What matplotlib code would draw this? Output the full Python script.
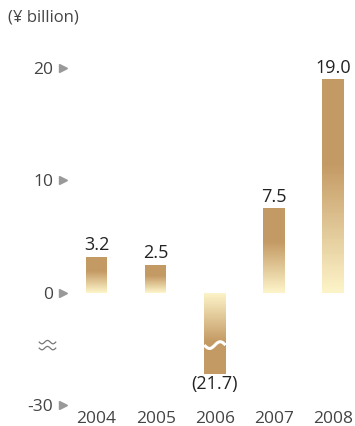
import numpy as np
import matplotlib.pyplot as plt
from matplotlib.colors import LinearSegmentedColormap

# chart values
years = ['2004', '2005', '2006', '2007', '2008']
values = [3.2, 2.5, -21.7, 7.5, 19.0]
value_labels = ['3.2', '2.5', '(21.7)', '7.5', '19.0']
ytick_values = [20, 10, 0, -30]
ytick_labels = ['20', '10', '0', '-30']
unit_label = '(¥ billion)'

plt.rcParams['font.family'] = ['Open Sans', 'DejaVu Sans']

# broken axis: negative side squeezed to a third
def fwd(y):
    y = np.asarray(y, dtype=float)
    return np.where(y >= 0, y, y / 3.0)

def inv(y):
    y = np.asarray(y, dtype=float)
    return np.where(y >= 0, y, y * 3.0)

tan = '#C49A64'
pale = '#FDF4C9'
cmap = LinearSegmentedColormap.from_list('bar', [(0, pale), (0.6, tan), (1, tan)])

fig = plt.figure(figsize=(3.55, 4.26), dpi=100)
ax = fig.add_axes([70 / 355, 21 / 426, 285 / 355, 365 / 426])
ax.set_yscale('function', functions=(fwd, inv))

x = np.arange(len(years))
width = 0.36
nslices = 120

for xi, v in zip(x, values):
    # gradient: pale at zero, tan towards the end of the bar
    edges = np.linspace(0, v, nslices + 1)
    for k in range(nslices):
        frac = (k + 0.5) / nslices
        ax.bar(xi, edges[k + 1] - edges[k], bottom=edges[k], width=width,
               color=cmap(frac), linewidth=0)

# value labels
for xi, v, lab in zip(x, values, value_labels):
    if v >= 0:
        ax.annotate(lab, (xi, v), xytext=(0, 2), textcoords='offset points',
                    ha='center', va='bottom', fontsize=13, color='#222222')
    else:
        ax.annotate(lab, (xi, v), xytext=(0, -1), textcoords='offset points',
                    ha='center', va='top', fontsize=13, color='#222222')

# wavy break across the negative bar
neg = [i for i, v in enumerate(values) if v < 0][0]
wx = np.linspace(neg - width / 2, neg + width / 2, 60)
wy = -14.0 - 0.9 * np.sin((wx - wx[0]) / width * 2 * np.pi)
ax.plot(wx, wy, color='white', lw=2.2, solid_capstyle='butt')

# axis break symbol: two small waves left of the axis
bx = np.linspace(-0.108, -0.05, 40)
phase = (bx - bx[0]) / (bx[-1] - bx[0]) * 3 * np.pi
for yc in (-13.2, -14.8):
    ax.plot(bx, yc - 0.45 * np.sin(phase), color='#777777', lw=0.9,
            transform=ax.get_yaxis_transform(), clip_on=False)

ax.set_xlim(-0.45, 4.37)
ax.set_ylim(-30, 22.5)
ax.set_xticks(x)
ax.set_xticklabels(years)
ax.set_yticks(ytick_values)
ax.set_yticklabels(ytick_labels)
ax.tick_params(axis='x', length=0, pad=4, labelsize=12.5, labelcolor='#444444')
ax.tick_params(axis='y', length=0, pad=12, labelsize=12.5, labelcolor='#444444')
ax.minorticks_off()
for s in ax.spines.values():
    s.set_visible(False)

# triangle markers next to y tick labels
ax.plot([-0.025] * len(ytick_values), ytick_values, linestyle='none', marker='>',
        markersize=6, color='#999999', transform=ax.get_yaxis_transform(),
        clip_on=False)

fig.text(8 / 355, 1 - 18 / 426, unit_label, ha='left', va='center',
         fontsize=12, color='#444444')

fig.savefig('out.png', dpi=100)
